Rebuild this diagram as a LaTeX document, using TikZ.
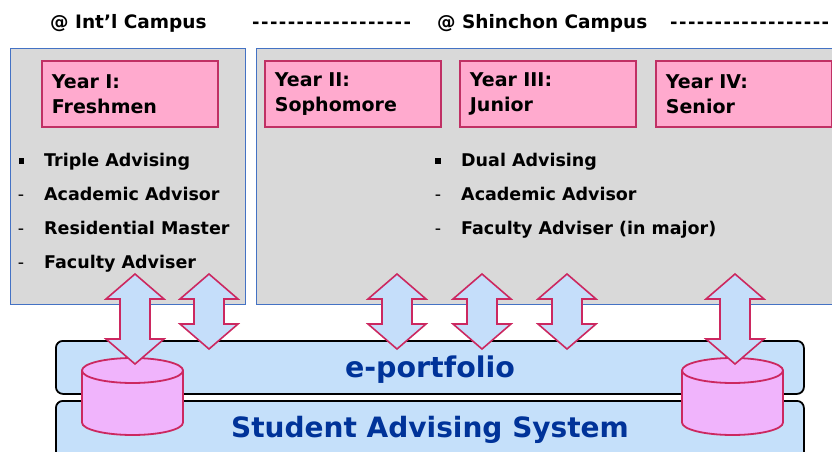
\documentclass[tikz,border=0pt]{standalone}
\usepackage{fontspec}
\setmainfont{DejaVu Sans}[Ligatures=TeXOff]
\newfontfamily\dashfont{DejaVu Sans}[Ligatures=TeXOff,LetterSpace=8]
\definecolor{panelfill}{RGB}{217,217,217}
\definecolor{panelline}{RGB}{68,114,196}
\definecolor{yearfill}{RGB}{255,170,206}
\definecolor{yearline}{RGB}{192,48,100}
\definecolor{arrowfill}{RGB}{197,222,250}
\definecolor{arrowline}{RGB}{204,40,96}
\definecolor{barfill}{RGB}{197,224,250}
\definecolor{cylfill}{RGB}{240,180,252}
\definecolor{bartext}{RGB}{0,51,153}
\newcommand\dblarr[3]{%
  \draw[arrowsty] (#1,#2) -- ++(29,25) -- ++(-14,0) -- (#1+15,#3-25) -- ++(14,0) -- (#1,#3)
    -- ++(-29,-25) -- ++(14,0) -- (#1-15,#2+25) -- ++(-14,0) -- cycle;}
\newcommand\cyl[3]{% left x, top centre y, bottom centre y
  \path[cylsty] (#1,#2) -- (#1,#3) arc[start angle=180,end angle=360,x radius=50.5pt,y radius=12.5pt] -- (#1+101,#2) -- cycle;
  \path[cylsty] (#1+50.5,#2) ellipse[x radius=50.5pt,y radius=12.5pt];}
\begin{document}
\begin{tikzpicture}[x=1pt,y=-1pt,
  panel/.style={draw=panelline,fill=panelfill,line width=1.2pt,anchor=north west,inner sep=0pt},
  yearbox/.style={draw=yearline,fill=yearfill,line width=1.8pt,anchor=north west,
    minimum width=176pt,minimum height=66pt,text width=156pt,inner xsep=10pt,align=left,
    font=\fontsize{19}{25}\selectfont\bfseries},
  title/.style={anchor=base west,inner sep=0pt,font=\fontsize{18.5}{22}\selectfont\bfseries},
  dashrow/.style={anchor=base west,inner sep=0pt,font=\dashfont\fontsize{18}{22}\selectfont\bfseries},
  item/.style={anchor=base west,inner sep=0pt,font=\fontsize{17.5}{22}\selectfont\bfseries},
  dashitem/.style={anchor=base,inner sep=0pt,font=\fontsize{17.5}{22}\selectfont},
  sq/.style={fill=black,minimum size=5.5pt,inner sep=0pt},
  bar/.style={draw=black,fill=barfill,line width=1.8pt,rounded corners=7pt,anchor=north west,inner sep=0pt},
  bartxt/.style={text=bartext,inner sep=0pt,anchor=base,font=\fontsize{#1}{#1}\selectfont\bfseries},
  arrowsty/.style={draw=arrowline,fill=arrowfill,line width=1.6pt,line join=miter},
  cylsty/.style={draw=arrowline,fill=cylfill,line width=1.8pt}]
\useasboundingbox (0,0) rectangle (832,452);
\clip (0,0) rectangle (832,452);
% titles
\node[title] (t1) at (50,29) {@ Int’l Campus};
\node[dashrow] (d1) at (252,29) {------------------};
\node[title] (t2) at (437,29) {@ Shinchon Campus};
\node[dashrow] (d2) at (670,29) {------------------};
% panels
\node[panel,minimum width=235pt,minimum height=256pt] (intl) at (10,48) {};
\node[panel,minimum width=620pt,minimum height=256pt] (shin) at (256,48) {};
% year boxes
\node[yearbox] (y1) at (41,60) {Year I:\\Freshmen};
\node[yearbox] (y2) at (264,60) {Year II:\\Sophomore};
\node[yearbox] (y3) at (459,60) {Year III:\\Junior};
\node[yearbox] (y4) at (655,60) {Year IV:\\Senior};
% left list
\node[sq] (b1) at (21.5,161) {};
\node[item] (l1) at (44,166.5) {Triple Advising};
\node[dashitem] (m2) at (21,200.5) {-};
\node[item] (l2) at (44,200.5) {Academic Advisor};
\node[dashitem] (m3) at (21,234.5) {-};
\node[item] (l3) at (44,234.5) {Residential Master};
\node[dashitem] (m4) at (21,268.5) {-};
\node[item] (l4) at (44,268.5) {Faculty Adviser};
% right list
\node[sq] (b5) at (438,161) {};
\node[item] (r1) at (461,166.5) {Dual Advising};
\node[dashitem] (n2) at (438,200.5) {-};
\node[item] (r2) at (461,200.5) {Academic Advisor};
\node[dashitem] (n3) at (438,234.5) {-};
\node[item] (r3) at (461,234.5) {Faculty Adviser (in major)};
% bars
\node[bar,minimum width=748pt,minimum height=80pt] (sas) at (55,400) {};
\node[bar,minimum width=748pt,minimum height=53pt] (ep) at (55,340) {};
\node[bartxt=28.5] (eptxt) at (430,377) {e-portfolio};
\node[bartxt=28] (sastxt) at (430,437) {Student Advising System};
% cylinders
\cyl{82}{370.5}{422.5}
\cyl{682}{370.5}{422.5}
% double arrows
\dblarr{135}{274}{364}
\dblarr{209}{274}{349}
\dblarr{397}{274}{349}
\dblarr{482}{274}{349}
\dblarr{567}{274}{349}
\dblarr{735}{274}{364}
\end{tikzpicture}
\end{document}
